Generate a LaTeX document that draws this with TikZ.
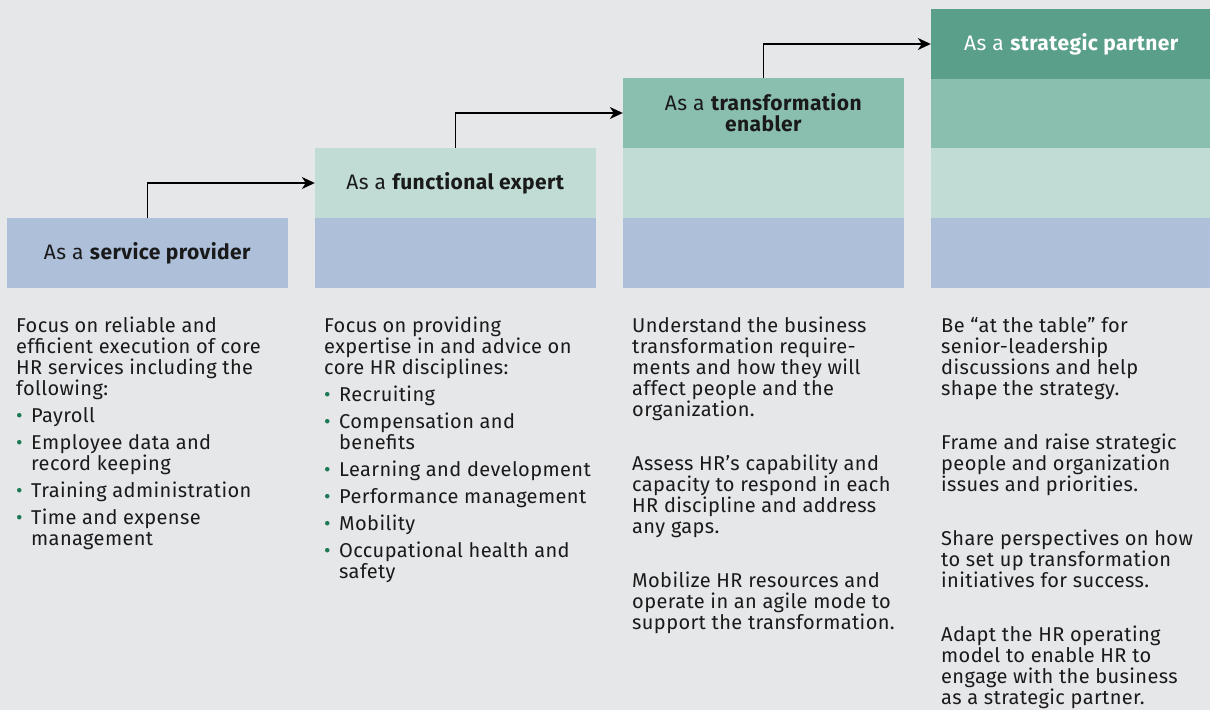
\documentclass[tikz,border=0pt]{standalone}
\usepackage{fontspec}
\setmainfont{Fira Sans}[LetterSpace=2.0]
\usetikzlibrary{arrows.meta}
\definecolor{bg}{HTML}{E6E7E9}
\definecolor{blueA}{HTML}{ADBFD9}
\definecolor{greenL}{HTML}{C0DCD4}
\definecolor{greenM}{HTML}{8ABEAF}
\definecolor{greenD}{HTML}{5A9F8A}
\definecolor{bulgreen}{HTML}{1E7A55}
\definecolor{ink}{HTML}{1A1A1A}
\newcommand\bul{\makebox[15pt][l]{\textcolor{bulgreen}{\textbullet}}}
\newcommand\ind{\hspace*{15pt}}
\tikzset{
  cell/.style={inner sep=0pt, minimum width=281pt, minimum height=70pt, text=ink,
    font=\fontsize{21}{21}\selectfont, align=center},
  body/.style={anchor=base west, inner sep=0pt, text=ink},
  arr/.style={-{Stealth[length=13pt,width=12pt,inset=4pt]}, line width=1.4pt, black}
}
\newcommand\bodytext[1]{\parbox[t]{275pt}{\raggedright\fontsize{20}{21}\selectfont #1}}
\begin{document}
\begin{tikzpicture}[x=1pt,y=-1pt]
\fill[bg] (0,0) rectangle (1210,710);
\useasboundingbox (0,0) rectangle (1210,710);
% column 1
\node[cell, fill=blueA] (h1) at (147.5,253) {As a \textbf{service provider}};
% column 2
\node[cell, fill=greenL] (h2) at (455.5,183) {As a \textbf{functional expert}};
\node[cell, fill=blueA] (b2) at (455.5,253) {};
% column 3
\node[cell, fill=greenM] (h3) at (763.5,113) {As a \textbf{transformation}\\\textbf{enabler}};
\node[cell, fill=greenL] (l3) at (763.5,183) {};
\node[cell, fill=blueA] (b3) at (763.5,253) {};
% column 4
\node[cell, fill=greenD, text=white] (h4) at (1071.5,44) {As a \textbf{strategic partner}};
\node[cell, fill=greenM] (m4) at (1071.5,113.5) {};
\node[cell, fill=greenL] (l4) at (1071.5,183) {};
\node[cell, fill=blueA] (b4) at (1071.5,253) {};
% arrows
\draw[arr] (h1.north) |- (h2.west);
\draw[arr] (h2.north) |- (h3.west);
\draw[arr] (h3.north) |- (h4.west);
% body texts
\node[body] (t1) at (16,332) {\bodytext{%
Focus on reliable and\\
efficient execution of core\\
HR services including the\\
following:\\[6pt]
\bul Payroll\\[6pt]
\bul Employee data and\\
\ind record keeping\\[6pt]
\bul Training administration\\[6pt]
\bul Time and expense\\
\ind management}};
\node[body] (t2) at (324,332) {\bodytext{%
Focus on providing\\
expertise in and advice on\\
core HR disciplines:\\[6pt]
\bul Recruiting\\[6pt]
\bul Compensation and\\
\ind benefits\\[6pt]
\bul Learning and development\\[6pt]
\bul Performance management\\[6pt]
\bul Mobility\\[6pt]
\bul Occupational health and\\
\ind safety}};
\node[body] (t3) at (632,332) {\bodytext{%
Understand the business\\
transformation require-\\
ments and how they will\\
affect people and the\\
organization.\\[33pt]
Assess HR’s capability and\\
capacity to respond in each\\
HR discipline and address\\
any gaps.\\[33pt]
Mobilize HR resources and\\
operate in an agile mode to\\
support the transformation.}};
\node[body] (t4) at (941,332) {\bodytext{%
Be “at the table” for\\
senior-leadership\\
discussions and help\\
shape the strategy.\\[33pt]
Frame and raise strategic\\
people and organization\\
issues and priorities.\\[33pt]
Share perspectives on how\\
to set up transformation\\
initiatives for success.\\[33pt]
Adapt the HR operating\\
model to enable HR to\\
engage with the business\\
as a strategic partner.}};
\end{tikzpicture}
\end{document}
